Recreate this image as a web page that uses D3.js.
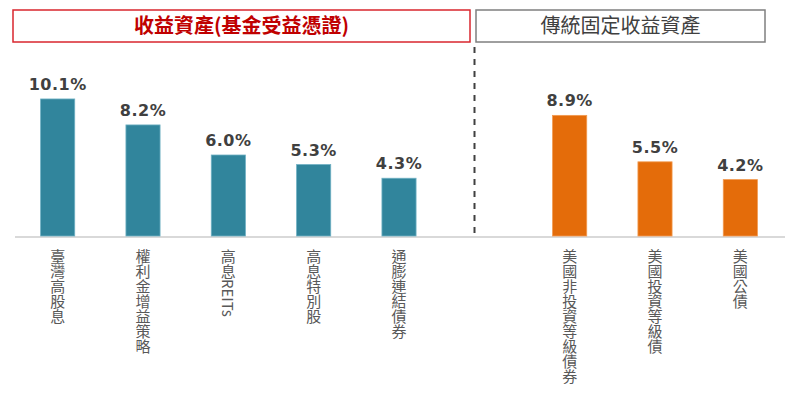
<!DOCTYPE html>
<html>
<head>
<meta charset="utf-8">
<script src="https://cdn.jsdelivr.net/npm/d3@7"></script>
<style>
    body { margin: 0; background: #ffffff; }
    #chart { width: 800px; height: 399px; }
</style>
</head>
<body>
<div id="chart"></div>
<script>
// data
const incomeCats = ["臺灣高股息", "權利金增益策略", "高息REITs", "高息特別股", "通膨連結債券"];
const incomeVals = [10.1, 8.2, 6.0, 5.3, 4.3];
const fixedCats = ["美國非投資等級債券", "美國投資等級債", "美國公債"];
const fixedVals = [8.9, 5.5, 4.2];
const groupTitles = ["收益資產(基金受益憑證)", "傳統固定收益資產"];

class yieldChart {

    constructor(parentElement) {
        this.parentElement = parentElement;
        this.data = incomeCats.map((c, i) => ({ cat: c, value: incomeVals[i], group: 0 }))
            .concat(fixedCats.map((c, i) => ({ cat: c, value: fixedVals[i], group: 1 })));
        this.initVis();
    }

    initVis() {
        let vis = this;

        vis.width = 800;
        vis.height = 399;
        vis.baseY = 237;

        vis.svg = d3.select("#" + vis.parentElement)
            .append("svg")
            .attr("width", vis.width)
            .attr("height", vis.height);

        // one empty slot between the two groups
        let domain = incomeCats.concat(["__gap"], fixedCats);

        vis.x = d3.scaleBand()
            .domain(domain)
            .range([15, 783])
            .paddingInner(0.6)
            .paddingOuter(0.3);

        vis.y = d3.scaleLinear()
            .domain([0, 12])
            .range([vis.baseY, vis.baseY - 164]);

        vis.colors = ["#31859c", "#e46c0a"];
        vis.edges = ["#6fb0c4", "#f29a50"];

        // group header boxes
        let headers = [
            { x0: 13, x1: 470, stroke: "#d9262e", fill: "#c00000", weight: "bold" },
            { x0: 476, x1: 765, stroke: "#7f7f7f", fill: "#404040", weight: "normal" }
        ];
        headers.forEach((h, i) => {
            vis.svg.append("rect")
                .attr("x", h.x0)
                .attr("y", 10)
                .attr("width", h.x1 - h.x0)
                .attr("height", 32)
                .attr("fill", "none")
                .attr("stroke", h.stroke)
                .attr("stroke-width", 1.5);
            vis.svg.append("text")
                .attr("x", (h.x0 + h.x1) / 2)
                .attr("y", 33)
                .attr("text-anchor", "middle")
                .style("font-family", "'Noto Sans CJK TC', sans-serif")
                .style("font-size", "20px")
                .style("font-weight", h.weight)
                .style("fill", h.fill)
                .text(groupTitles[i]);
        });

        // divider between the groups
        vis.svg.append("line")
            .attr("x1", 474.5)
            .attr("x2", 474.5)
            .attr("y1", 47)
            .attr("y2", vis.baseY)
            .attr("stroke", "#404040")
            .attr("stroke-width", 2)
            .attr("stroke-dasharray", "6,6");

        // baseline
        vis.svg.append("line")
            .attr("x1", 15)
            .attr("x2", 785)
            .attr("y1", vis.baseY)
            .attr("y2", vis.baseY)
            .attr("stroke", "#d9d9d9")
            .attr("stroke-width", 2);

        vis.updateVis();
    }

    updateVis() {
        let vis = this;

        vis.svg.selectAll(".bar")
            .data(vis.data)
            .enter()
            .append("rect")
            .attr("class", "bar")
            .attr("x", d => vis.x(d.cat))
            .attr("width", vis.x.bandwidth())
            .attr("y", d => vis.y(d.value))
            .attr("height", d => vis.y(0) - vis.y(d.value) - 1)
            .attr("fill", d => vis.colors[d.group])
            .attr("stroke", d => vis.edges[d.group])
            .attr("stroke-width", 0.8);

        // value labels
        vis.svg.selectAll(".val")
            .data(vis.data)
            .enter()
            .append("text")
            .attr("class", "val")
            .attr("x", d => vis.x(d.cat) + vis.x.bandwidth() / 2)
            .attr("y", d => vis.y(d.value) - 9)
            .attr("text-anchor", "middle")
            .style("font-family", "'DejaVu Sans', Verdana, sans-serif")
            .style("font-size", "16px")
            .style("font-weight", "bold")
            .style("letter-spacing", "0.5px")
            .style("fill", "#404040")
            .text(d => d.value.toFixed(1) + "%");

        // vertical category labels
        vis.svg.selectAll(".cat")
            .data(vis.data)
            .enter()
            .append("text")
            .attr("class", "cat")
            .attr("x", d => vis.x(d.cat) + vis.x.bandwidth() / 2)
            .attr("y", 249)
            .style("writing-mode", "vertical-rl")
            .style("font-family", "'Noto Sans CJK TC', sans-serif")
            .style("font-size", "15px")
            .style("fill", "#595959")
            .text(d => d.cat);
    }
}

new yieldChart("chart");
</script>
</body>
</html>
